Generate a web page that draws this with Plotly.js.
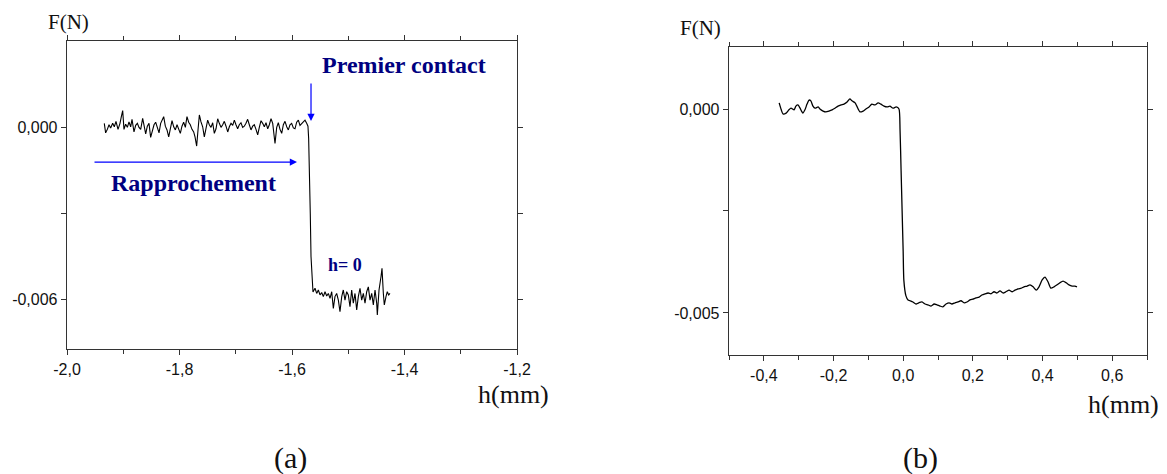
<!DOCTYPE html>
<html>
<head>
<meta charset="utf-8">
<script src="https://cdn.plot.ly/plotly-3.0.1.min.js"></script>
<style>html,body{margin:0;padding:0;background:#fff;}#chart{width:1167px;height:474px;}</style>
</head>
<body>
<div id="chart"></div>
<script>
// ---- Panel (a): approach curve, h in mm, F in N ----
const hA = [
-1.9337,-1.9313,-1.9283,-1.9253,-1.9224,-1.9188,-1.9159,-1.9129,-1.9093,-1.9058,-1.9034,-1.9010,-1.8987,-1.8957,-1.8927,-1.8898,-1.8868,-1.8844,-1.8809,-1.8779,
-1.8749,-1.8720,-1.8690,-1.8655,-1.8625,-1.8601,-1.8572,-1.8542,-1.8513,-1.8483,-1.8453,-1.8424,-1.8394,-1.8364,-1.8335,-1.8305,-1.8281,-1.8252,-1.8222,-1.8192,
-1.8163,-1.8133,-1.8103,-1.8074,-1.8044,-1.8014,-1.7985,-1.7956,-1.7926,-1.7896,-1.7867,-1.7837,-1.7808,-1.7778,-1.7748,-1.7724,-1.7695,-1.7671,-1.7647,-1.7618,
-1.7588,-1.7559,-1.7529,-1.7499,-1.7470,-1.7440,-1.7410,-1.7381,-1.7351,-1.7321,-1.7292,-1.7262,-1.7232,-1.7203,-1.7173,-1.7143,-1.7114,-1.7084,-1.7054,-1.7025,
-1.6996,-1.6966,-1.6937,-1.6907,-1.6877,-1.6848,-1.6818,-1.6788,-1.6759,-1.6729,-1.6699,-1.6670,-1.6640,-1.6610,-1.6581,-1.6551,-1.6521,-1.6492,-1.6462,-1.6432,
-1.6403,-1.6373,-1.6343,-1.6326,-1.6302,-1.6272,-1.6243,-1.6213,-1.6183,-1.6154,-1.6124,-1.6094,-1.6065,-1.6036,-1.6006,-1.5976,-1.5947,-1.5917,-1.5887,-1.5858,
-1.5828,-1.5799,-1.5769,-1.5739,-1.5716,
-1.5704,-1.5689,-1.5675,-1.5662,-1.5644,-1.5627,
-1.5591,-1.5561,-1.5532,-1.5502,-1.5472,-1.5443,-1.5413,-1.5383,-1.5354,-1.5324,-1.5294,-1.5265,-1.5236,-1.5206,-1.5176,-1.5147,-1.5116,-1.5088,-1.5058,-1.5028,
-1.4999,-1.4969,-1.4939,-1.4910,-1.4880,-1.4850,-1.4821,-1.4791,-1.4761,-1.4732,-1.4702,-1.4672,-1.4643,-1.4613,-1.4583,-1.4554,-1.4524,-1.4494,-1.4483,-1.4453,
-1.4418,-1.4400,-1.4376,-1.4359,-1.4329,-1.4306,-1.4281,-1.4258
];
const fA = [
0.00013,-0.00020,-0.00008,0.00008,-0.00003,0.00013,0.00001,0.00020,-0.00008,0.00013,0.00036,0.00057,-0.00008,0.00010,-0.00001,0.00018,0.00001,0.00027,-0.00017,0.00006,
0.00013,-0.00001,-0.00008,0.00030,0.00001,-0.00024,0.00003,0.00013,-0.00036,-0.00008,0.00008,0.00017,-0.00001,-0.00020,0.00013,0.00024,0.00036,0.00003,-0.00010,-0.00034,
-0.00001,0.00022,0.00001,-0.00010,0.00008,-0.00006,-0.00022,0.00003,0.00017,-0.00001,0.00036,0.00017,0.00008,-0.00008,-0.00017,-0.00034,-0.00066,-0.00010,0.00042,0.00018,
0.00001,-0.00034,-0.00008,0.00024,0.00008,-0.00001,0.00015,-0.00022,-0.00006,0.00029,0.00013,-0.00001,0.00008,0.00020,0.00003,-0.00017,0.00001,0.00013,0.00006,0.00024,
0.00008,-0.00006,0.00008,0.00015,-0.00001,0.00003,0.00013,0.00027,0.00008,-0.00010,0.00003,0.00008,-0.00008,-0.00027,-0.00001,0.00022,0.00013,0.00001,0.00015,-0.00006,
0.00008,0.00029,0.00013,-0.00022,-0.00057,-0.00001,0.00015,-0.00008,-0.00022,0.00008,0.00020,0.00001,-0.00010,0.00008,0.00013,-0.00003,-0.00006,0.00017,0.00024,0.00006,
0.00013,0.00017,0.00024,0.00013,0.00003,
-0.00040,-0.00150,-0.00300,-0.00450,-0.00550,-0.00573,
-0.00560,-0.00578,-0.00566,-0.00583,-0.00575,-0.00589,-0.00572,-0.00587,-0.00578,-0.00595,-0.00572,-0.00630,-0.00589,-0.00578,-0.00601,-0.00641,-0.00589,-0.00566,-0.00601,-0.00572,
-0.00583,-0.00624,-0.00566,-0.00612,-0.00578,-0.00635,-0.00589,-0.00560,-0.00601,-0.00578,-0.00612,-0.00572,-0.00555,-0.00601,-0.00578,-0.00618,-0.00566,-0.00612,-0.00653,-0.00566,
-0.00520,-0.00491,-0.00578,-0.00618,-0.00589,-0.00572,-0.00583,-0.00578
];

// ---- Panel (b): h in mm (origin at contact), F in N ----
const hB = [
-0.356,-0.350,-0.345,-0.336,-0.328,-0.322,-0.313,-0.308,-0.302,-0.296,-0.288,-0.282,-0.276,-0.270,-0.265,-0.259,-0.253,-0.244,-0.239,-0.230,
-0.222,-0.213,-0.204,-0.196,-0.187,-0.178,-0.170,-0.161,-0.153,-0.147,-0.138,-0.133,-0.124,-0.115,-0.107,-0.098,-0.090,-0.081,-0.072,-0.064,
-0.055,-0.046,-0.038,-0.029,-0.020,-0.012,
-0.009,-0.006,-0.003,0.000,0.002,0.008,
0.014,0.020,0.028,0.037,0.045,0.054,0.063,0.071,0.080,0.089,0.097,0.106,0.114,0.123,0.132,0.140,0.149,0.157,0.166,0.175,
0.183,0.192,0.200,0.209,0.218,0.226,0.235,0.244,0.252,0.261,0.269,0.278,0.287,0.295,0.304,0.313,0.321,0.330,0.339,0.347,
0.356,0.364,0.373,0.382,0.390,0.399,0.407,0.416,0.424,0.433,0.442,0.450,0.459,0.468,0.476,0.485,0.493,0.499
];
const fB = [
0.00015,-0.00002,-0.00012,-0.00010,-0.00002,0.00002,-0.00002,0.00007,0.00010,0.00002,-0.00010,-0.00002,0.00012,0.00022,0.00020,0.00007,0.00002,0.00005,0.00000,-0.00005,
-0.00007,-0.00005,-0.00002,0.00002,0.00007,0.00010,0.00012,0.00017,0.00025,0.00020,0.00015,0.00007,-0.00007,-0.00005,0.00000,0.00005,0.00012,0.00010,0.00015,0.00012,
0.00007,0.00005,0.00007,0.00002,0.00005,0.00000,
-0.00050,-0.00150,-0.00250,-0.00350,-0.00420,-0.00458,
-0.00468,-0.00470,-0.00473,-0.00478,-0.00475,-0.00473,-0.00478,-0.00480,-0.00483,-0.00478,-0.00480,-0.00483,-0.00485,-0.00478,-0.00475,-0.00478,-0.00475,-0.00473,-0.00470,-0.00475,
-0.00473,-0.00468,-0.00466,-0.00463,-0.00461,-0.00456,-0.00453,-0.00451,-0.00453,-0.00448,-0.00451,-0.00446,-0.00451,-0.00448,-0.00444,-0.00448,-0.00444,-0.00441,-0.00439,-0.00436,
-0.00434,-0.00431,-0.00436,-0.00444,-0.00436,-0.00419,-0.00412,-0.00424,-0.00439,-0.00436,-0.00431,-0.00426,-0.00422,-0.00426,-0.00431,-0.00434,-0.00434,-0.00436
];

// tick labels (hyphen-minus and decimal comma as printed)
const xTickValsA = [-2.0, -1.8, -1.6, -1.4, -1.2];
const xTickTextA = ['-2,0', '-1,8', '-1,6', '-1,4', '-1,2'];
const yTickValsA = [0, -0.003, -0.006];
const yTickTextA = ['0,000', '', '-0,006'];
const xTickValsB = [-0.4, -0.2, 0.0, 0.2, 0.4, 0.6];
const xTickTextB = ['-0,4', '-0,2', '0,0', '0,2', '0,4', '0,6'];
const yTickValsB = [0, -0.0025, -0.005];
const yTickTextB = ['0,000', '', '-0,005'];

const tickFont = {family: 'Liberation Sans, Arial, sans-serif', size: 16, color: '#111'};
const serif = 'Liberation Serif, Times New Roman, serif';
const navy = '#000080';

function xAx(domain, range, anchor, vals, text) {
  return {
    domain: domain, range: range, anchor: anchor,
    showline: true, linecolor: '#333', linewidth: 1.3, mirror: 'ticks',
    ticks: 'outside', ticklen: 5, tickcolor: '#333', tickwidth: 1,
    tickmode: 'array', tickvals: vals, ticktext: text, tickfont: tickFont,
    minor: {dtick: 0.1, ticks: 'outside', ticklen: 4, tickcolor: '#333'},
    showgrid: false, zeroline: false, fixedrange: true
  };
}
function yAx(domain, range, anchor, vals, text) {
  return {
    domain: domain, range: range, anchor: anchor,
    showline: true, linecolor: '#333', linewidth: 1.3, mirror: 'ticks',
    ticks: 'outside', ticklen: 5, tickcolor: '#333', tickwidth: 1,
    tickmode: 'array', tickvals: vals, ticktext: text, tickfont: tickFont,
    showgrid: false, zeroline: false, fixedrange: true
  };
}

const data = [
  {x: hA, y: fA, xaxis: 'x', yaxis: 'y', type: 'scatter', mode: 'lines',
   line: {color: '#000', width: 1.1}, hoverinfo: 'skip'},
  {x: hB, y: fB, xaxis: 'x2', yaxis: 'y2', type: 'scatter', mode: 'lines',
   line: {color: '#000', width: 1.3, shape: 'spline', smoothing: 0.6}, hoverinfo: 'skip'}
];

function txt(xp, yp, text, size) {
  return {xref: 'paper', yref: 'paper', x: xp / 1167, y: 1 - yp / 474, text: text,
          showarrow: false, xanchor: 'center', yanchor: 'middle',
          font: {family: serif, size: size, color: '#111'}};
}

const layout = {
  width: 1167, height: 474,
  margin: {l: 0, r: 0, t: 0, b: 0},
  paper_bgcolor: '#fff', plot_bgcolor: '#fff',
  separators: ', ',
  showlegend: false,
  xaxis: xAx([67/1167, 517/1167], [-2.0, -1.2], 'y', xTickValsA, xTickTextA),
  yaxis: yAx([1 - 349/474, 1 - 41/474], [-0.00771, 0.00299], 'x', yTickValsA, yTickTextA),
  xaxis2: xAx([729/1167, 1147/1167], [-0.5, 0.7], 'y2', xTickValsB, xTickTextB),
  yaxis2: yAx([1 - 355/474, 1 - 47/474], [-0.00603, 0.00152], 'x2', yTickValsB, yTickTextB),
  annotations: [
    txt(68, 22, 'F(N)', 21),
    txt(513, 394, 'h(mm)', 26),
    txt(700, 28, 'F(N)', 21),
    txt(1123, 404, 'h(mm)', 26),
    txt(290, 458, '(a)', 30),
    txt(920, 458, '(b)', 30),
    // panel (a) labels
    {xref: 'x', yref: 'y', x: -1.4009, y: 0.00215, text: '<b>Premier contact</b>', showarrow: false,
     xanchor: 'center', yanchor: 'middle', font: {family: serif, size: 24, color: navy}},
    {xref: 'x', yref: 'y', x: -1.776, y: -0.00194, text: '<b>Rapprochement</b>', showarrow: false,
     xanchor: 'center', yanchor: 'middle', font: {family: serif, size: 24, color: navy}},
    {xref: 'x', yref: 'y', x: -1.5058, y: -0.00479, text: '<b>h= 0</b>', showarrow: false,
     xanchor: 'center', yanchor: 'middle', font: {family: serif, size: 18, color: navy}},
    // arrows
    {xref: 'x', yref: 'y', x: -1.5662, y: 0.00021, ax: 0, ay: -39, text: '', showarrow: true,
     arrowhead: 2, arrowsize: 1.2, arrowwidth: 1.2, arrowcolor: '#0000ff'},
    {xref: 'x', yref: 'y', x: -1.5911, y: -0.001215, ax: -204, ay: 0, text: '', showarrow: true,
     arrowhead: 2, arrowsize: 1.2, arrowwidth: 1.2, arrowcolor: '#0000ff'}
  ]
};

Plotly.newPlot('chart', data, layout, {staticPlot: true, displayModeBar: false});
</script>
</body>
</html>
